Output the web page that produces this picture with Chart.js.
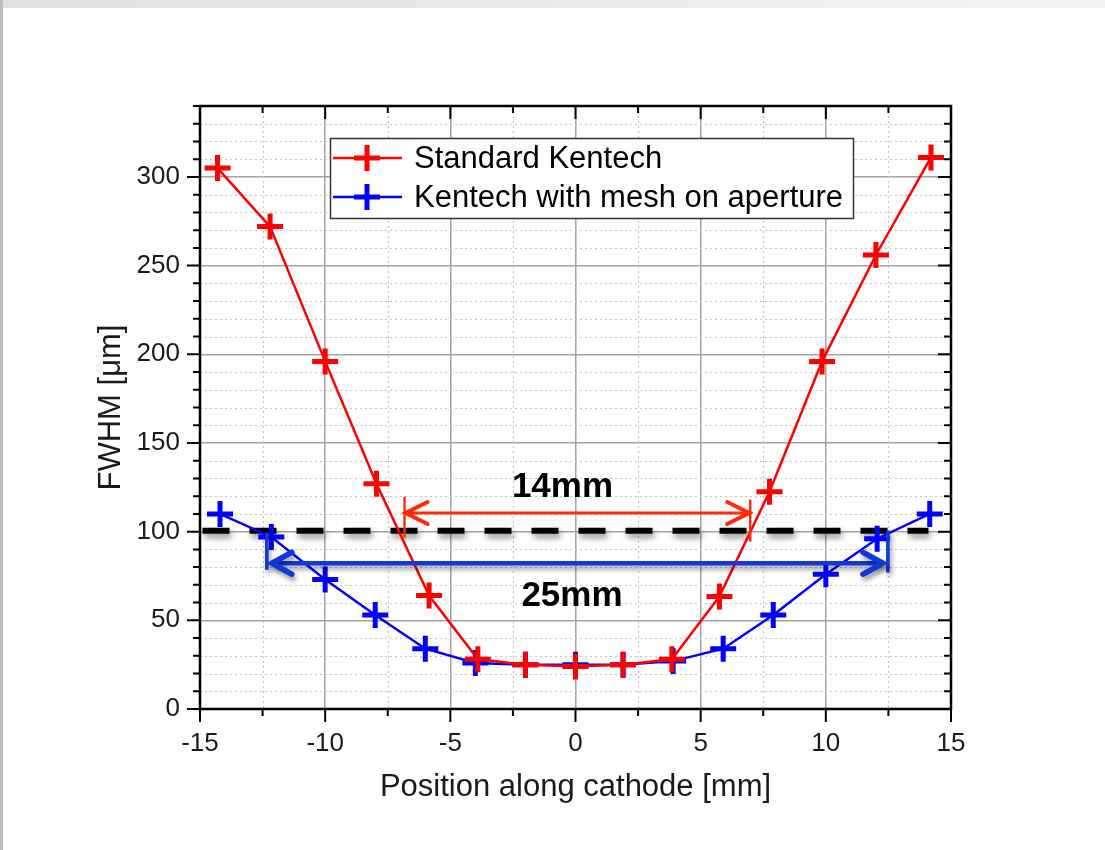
<!DOCTYPE html>
<html><head><meta charset="utf-8">
<script src="https://cdn.jsdelivr.net/npm/chart.js@4.4.1/dist/chart.umd.min.js"></script>
<style>
html,body{margin:0;padding:0;background:#fff;width:1105px;height:850px;overflow:hidden;}
#topbar{position:absolute;left:0;top:0;width:1105px;height:8px;background:linear-gradient(to right,#e0e0e0,#f3f3f3);}
#leftbar{position:absolute;left:0;top:0;width:3px;height:850px;background:#bdbdbd;}
#wrap{position:absolute;left:0;top:0;width:1105px;height:850px;}
</style></head><body>
<div id="topbar"></div><div id="leftbar"></div>
<div id="wrap"><canvas id="c" width="1105" height="850"></canvas></div>
<script>
// ---- data ----
const positionsStandard = [-14.3, -12.2, -10, -7.95, -5.85, -3.9, -2, 0, 1.9, 3.85, 5.75, 7.75, 9.85, 12, 14.2];
const fwhmStandard      = [305, 272, 196, 127, 64, 28, 25, 24, 25, 28, 63.5, 122.5, 196, 256, 311];
const positionsMesh     = [-14.2, -12.15, -10, -8, -6, -4, -2, 0, 1.9, 3.9, 5.9, 7.9, 10, 12.05, 14.15];
const fwhmMesh          = [110, 97, 73, 53, 34, 26, 25, 25, 25, 27, 34, 53, 76, 96, 110];
const seriesLabels      = ['Standard Kentech', 'Kentech with mesh on aperture'];
const xTickLabels       = [-15, -10, -5, 0, 5, 10, 15];
const yTickLabels       = [0, 50, 100, 150, 200, 250, 300];
const thresholdLevel    = 100.5;            // dashed reference line (µm)
const thresholdSpan     = [-14.9, 14.1];
const widthArrows = [ // in data units
  {label:'14mm', x1:-6.83, x2:6.98, y:110.5, bar1:[96.6,119.7], bar2:[94.4,118], textX:-0.52, textY:125},
  {label:'25mm', x1:-12.33, x2:12.48, y:82.2, bar1:[78.5,99.4], bar2:[76.9,100.7], textX:-0.14, textY:63.5}
];
// ---- styles ----
const FONT = '"Liberation Sans", Arial, sans-serif';
const RED = '#ff0000', BLUE = '#0000ff';
const arrowStyles = [
  {color:'#ff2a08', width:3, head:22, spread:11, inset:1, shadow:false},
  {color:'#1238d8', width:4.5, head:20, spread:11, inset:5, shadow:true}
];
const isMult = (v, m) => Math.abs(v / m - Math.round(v / m)) < 1e-6;

const toPts = (xs, ys) => xs.map((x, i) => ({x, y: ys[i]}));

const decor = {
  id: 'decor',
  beforeDatasetsDraw(chart) {
    const {ctx, chartArea: a, scales: {x, y}} = chart;
    ctx.save();
    // minor dotted grid
    ctx.strokeStyle = '#c4c4c4'; ctx.lineWidth = 1.2; ctx.setLineDash([2, 3]);
    for (let v = -15; v <= 15.001; v += 2.5) {
      if (isMult(v, 5)) continue;
      const px = Math.round(x.getPixelForValue(v)) + 0.5;
      ctx.beginPath(); ctx.moveTo(px, a.top); ctx.lineTo(px, a.bottom); ctx.stroke();
    }
    for (let v = 0; v <= 340; v += 10) {
      if (isMult(v, 50)) continue;
      const py = Math.round(y.getPixelForValue(v)) + 0.5;
      ctx.beginPath(); ctx.moveTo(a.left, py); ctx.lineTo(a.right, py); ctx.stroke();
    }
    // dashed threshold line with shadow
    ctx.setLineDash([27, 20]);
    ctx.strokeStyle = '#000'; ctx.lineWidth = 6;
    ctx.shadowColor = 'rgba(0,0,0,0.45)'; ctx.shadowBlur = 6; ctx.shadowOffsetX = 2; ctx.shadowOffsetY = 4;
    const ty = y.getPixelForValue(thresholdLevel);
    ctx.beginPath(); ctx.moveTo(x.getPixelForValue(thresholdSpan[0]), ty);
    ctx.lineTo(x.getPixelForValue(thresholdSpan[1]), ty); ctx.stroke();
    ctx.restore();
  },
  afterDatasetsDraw(chart) {
    const {ctx, chartArea: a, scales: {x, y}} = chart;
    ctx.save();
    // width arrows
    widthArrows.forEach((ar, i) => {
      const st = arrowStyles[i];
      const x1 = x.getPixelForValue(ar.x1), x2 = x.getPixelForValue(ar.x2), py = y.getPixelForValue(ar.y);
      ctx.save();
      if (st.shadow) { ctx.shadowColor = 'rgba(0,0,0,0.4)'; ctx.shadowBlur = 5; ctx.shadowOffsetX = 2; ctx.shadowOffsetY = 4; }
      ctx.strokeStyle = st.color; ctx.lineCap = 'butt'; ctx.lineJoin = 'miter';
      // end bars
      ctx.lineWidth = st.width * 0.8;
      ctx.beginPath();
      ctx.moveTo(x1, y.getPixelForValue(ar.bar1[0])); ctx.lineTo(x1, y.getPixelForValue(ar.bar1[1]));
      ctx.moveTo(x2, y.getPixelForValue(ar.bar2[0])); ctx.lineTo(x2, y.getPixelForValue(ar.bar2[1]));
      ctx.stroke();
      // shaft
      const t1 = x1 + st.inset, t2 = x2 - st.inset;
      ctx.lineWidth = st.width;
      ctx.beginPath(); ctx.moveTo(t1, py); ctx.lineTo(t2, py); ctx.stroke();
      // heads
      ctx.lineWidth = st.width + 1; ctx.lineCap = 'round';
      ctx.beginPath();
      ctx.moveTo(t1 + st.head, py - st.spread); ctx.lineTo(t1, py); ctx.lineTo(t1 + st.head, py + st.spread);
      ctx.moveTo(t2 - st.head, py - st.spread); ctx.lineTo(t2, py); ctx.lineTo(t2 - st.head, py + st.spread);
      ctx.stroke();
      ctx.restore();
      ctx.fillStyle = '#000'; ctx.font = 'bold 35px ' + FONT;
      ctx.textAlign = 'center'; ctx.textBaseline = 'middle';
      ctx.fillText(ar.label, x.getPixelForValue(ar.textX), y.getPixelForValue(ar.textY));
    });
    // frame
    ctx.strokeStyle = '#000'; ctx.lineWidth = 2.5; ctx.setLineDash([]);
    ctx.strokeRect(a.left, a.top, a.right - a.left, a.bottom - a.top);
    // tick marks
    ctx.lineWidth = 2;
    ctx.beginPath();
    for (let v = -15; v <= 15.001; v += 2.5) {
      const len = isMult(v, 5) ? 13 : 7;
      const px = x.getPixelForValue(v);
      ctx.moveTo(px, a.bottom); ctx.lineTo(px, a.bottom + len);
      ctx.moveTo(px, a.top); ctx.lineTo(px, a.top + len);
    }
    for (let v = 0; v <= 340; v += 10) {
      const len = isMult(v, 50) ? 13 : 7;
      const py = y.getPixelForValue(v);
      ctx.moveTo(a.left - len, py); ctx.lineTo(a.left, py);
      ctx.moveTo(a.right - len, py); ctx.lineTo(a.right, py);
    }
    ctx.stroke();
    // legend
    const L = {x: 330, y: 138, w: 523, h: 80, rows: [158, 197]};
    ctx.fillStyle = '#fff'; ctx.fillRect(L.x, L.y, L.w, L.h);
    ctx.strokeStyle = '#333'; ctx.lineWidth = 1.5; ctx.strokeRect(L.x + 0.5, L.y + 0.5, L.w, L.h);
    chart.data.datasets.forEach((ds, i) => {
      const ry = L.rows[i];
      ctx.strokeStyle = ds.borderColor; ctx.lineWidth = 2.5;
      ctx.beginPath(); ctx.moveTo(L.x + 3, ry); ctx.lineTo(L.x + 72, ry); ctx.stroke();
      ctx.lineWidth = 5;
      ctx.beginPath();
      ctx.moveTo(L.x + 37 - 13, ry); ctx.lineTo(L.x + 37 + 13, ry);
      ctx.moveTo(L.x + 37, ry - 13); ctx.lineTo(L.x + 37, ry + 13);
      ctx.stroke();
      ctx.fillStyle = '#000'; ctx.font = '31px ' + FONT; ctx.textAlign = 'left'; ctx.textBaseline = 'middle';
      ctx.fillText(ds.label, L.x + 84, ry + 1);
    });
    ctx.restore();
  }
};

new Chart(document.getElementById('c'), {
  type: 'line',
  data: {
    datasets: [
      {label: seriesLabels[0], data: toPts(positionsStandard, fwhmStandard), borderColor: RED, backgroundColor: RED,
       borderWidth: 2.5, pointStyle: 'cross', pointRadius: 13, pointBorderWidth: 5, pointBorderColor: RED, tension: 0, fill: false},
      {label: seriesLabels[1], data: toPts(positionsMesh, fwhmMesh), borderColor: BLUE, backgroundColor: BLUE,
       borderWidth: 2.5, pointStyle: 'cross', pointRadius: 13, pointBorderWidth: 5, pointBorderColor: BLUE, tension: 0, fill: false}
    ]
  },
  options: {
    responsive: false, animation: false, devicePixelRatio: 1,
    layout: {padding: {top: 106, right: 154, left: 0, bottom: 0}},
    plugins: {legend: {display: false}, tooltip: {enabled: false}},
    scales: {
      x: {
        type: 'linear', position: 'bottom', min: -15, max: 15,
        afterFit(s) { s.height = 141; },
        ticks: {stepSize: 2.5, autoSkip: false, maxRotation: 0, padding: 19, color: '#1a1a1a',
                font: {family: FONT, size: 26},
                callback: v => xTickLabels.some(t => Math.abs(t - v) < 1e-6) ? String(Math.round(v)) : ''},
        grid: {drawTicks: false, lineWidth: 1.5,
               color: c => (c.tick && isMult(c.tick.value, 5)) ? '#a3a3a3' : 'rgba(0,0,0,0)'},
        border: {display: false},
        title: {display: true, text: 'Position along cathode [mm]', color: '#1a1a1a',
                font: {family: FONT, size: 31}, padding: {top: 0, bottom: 44}}
      },
      y: {
        type: 'linear', position: 'left', min: 0, max: 340,
        afterFit(s) { s.width = 200; },
        ticks: {stepSize: 10, autoSkip: false, padding: 20, color: '#1a1a1a',
                font: {family: FONT, size: 26},
                callback: v => yTickLabels.includes(Math.round(v)) && isMult(v, 50) ? String(Math.round(v)) : ''},
        grid: {drawTicks: false, lineWidth: 1.5,
               color: c => (c.tick && isMult(c.tick.value, 50)) ? '#a3a3a3' : 'rgba(0,0,0,0)'},
        border: {display: false},
        title: {display: true, text: 'FWHM [\u03bcm]', color: '#1a1a1a',
                font: {family: FONT, size: 31}, padding: {top: 93, bottom: 0}}
      }
    }
  },
  plugins: [decor]
});
</script>
</body></html>
